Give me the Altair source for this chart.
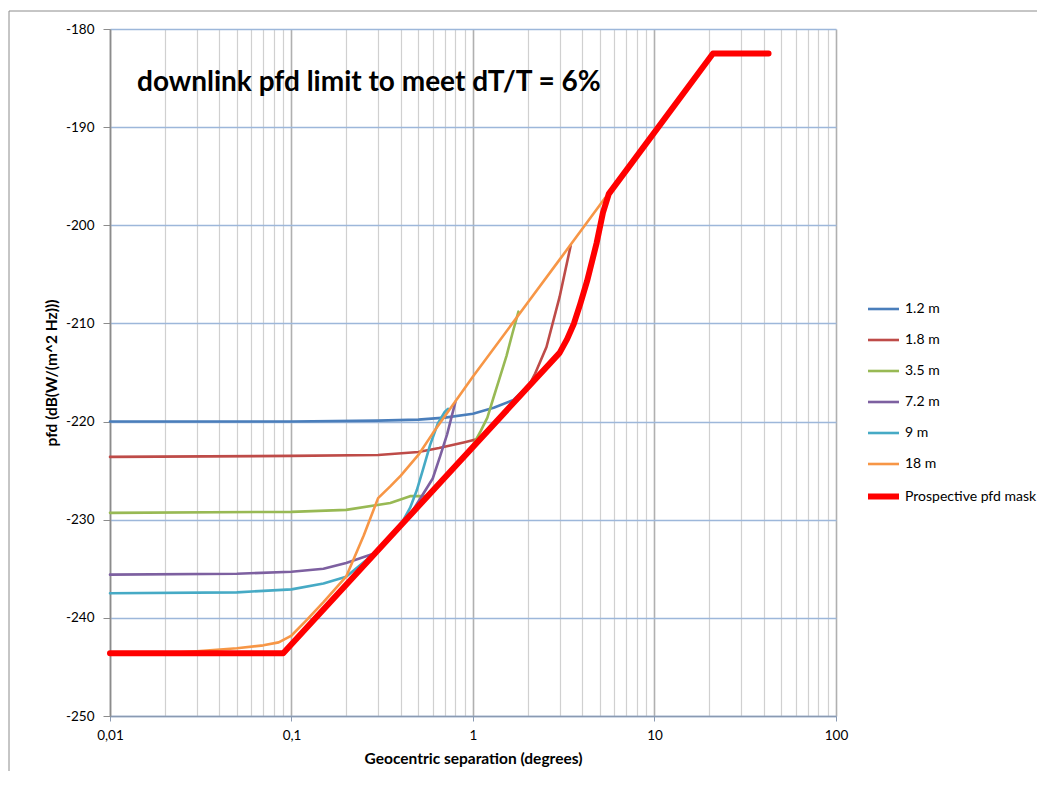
import altair as alt
import pandas as pd

# ---- data ----
title_text = "downlink pfd limit to meet dT/T = 6%"
series_names = ["1.2 m", "1.8 m", "3.5 m", "7.2 m", "9 m", "18 m", "Prospective pfd mask"]
series_colors = ["#4a7ebb", "#be4b48", "#98b954", "#7d60a0", "#46aac5", "#f79646", "#ff0000"]
series_widths = [2.6, 2.6, 2.6, 2.6, 2.6, 2.6, 6]

x_12 = [0.01, 0.03, 0.1, 0.3, 0.5, 0.7, 1.0, 1.3, 1.67, 1.9, 2.3, 2.7, 3.0]
y_12 = [-220.0, -220.0, -220.0, -219.9, -219.8, -219.6, -219.2, -218.6, -217.8, -216.8, -215.4, -214.0, -213.1]

x_18 = [0.01, 0.1, 0.3, 0.5, 0.65, 0.9, 1.1, 1.5, 2.0, 2.2, 2.54, 3.0, 3.45]
y_18 = [-223.6, -223.5, -223.4, -223.1, -222.7, -222.1, -221.7, -219.1, -216.6, -215.1, -212.4, -207.3, -202.1]

x_35 = [0.01, 0.1, 0.2, 0.35, 0.45, 0.55, 0.7, 0.9, 1.0, 1.1, 1.2, 1.29, 1.4, 1.53, 1.65, 1.78]
y_35 = [-229.3, -229.2, -229.0, -228.3, -227.6, -227.6, -225.6, -223.4, -222.4, -221.0, -219.6, -217.7, -215.6, -213.3, -211.0, -208.8]

x_72 = [0.01, 0.05, 0.1, 0.15, 0.2, 0.28, 0.35, 0.45, 0.53, 0.6, 0.66, 0.72, 0.8]
y_72 = [-235.6, -235.5, -235.3, -235.0, -234.4, -233.5, -231.7, -229.5, -227.4, -225.8, -223.5, -221.3, -218.0]

x_9 = [0.01, 0.05, 0.1, 0.15, 0.2, 0.3, 0.4, 0.45, 0.49, 0.53, 0.58, 0.64, 0.7, 0.73]
y_9 = [-237.5, -237.4, -237.1, -236.5, -235.8, -233.1, -230.5, -228.8, -227.0, -224.9, -222.4, -220.2, -219.0, -218.7]

x_18m = [0.01, 0.02, 0.03, 0.05, 0.07, 0.085, 0.1, 0.12, 0.15, 0.2, 0.25, 0.3, 0.35, 0.4, 0.5, 0.6, 1.0, 2.0, 3.0, 5.35]
y_18m = [-243.6, -243.6, -243.4, -243.1, -242.8, -242.5, -241.8, -240.3, -238.4, -235.8, -231.6, -227.8, -226.6, -225.5, -223.4, -221.2, -215.4, -207.9, -203.5, -197.2]

x_mask = [0.01, 0.09, 3.0, 3.3, 3.6, 3.9, 4.25, 4.8, 5.2, 5.6, 21.0, 42.5]
y_mask = [-243.6, -243.6, -213.0, -211.6, -210.0, -208.0, -205.7, -201.8, -198.7, -196.8, -182.5, -182.5]

x_major = [0.01, 0.1, 1, 10, 100]
x_grid = [m * 10 ** e for e in range(-2, 2) for m in range(1, 10)] + [100]
y_ticks = [-250, -240, -230, -220, -210, -200, -190, -180]

FONT = "Lato"

all_x = [x_12, x_18, x_35, x_72, x_9, x_18m, x_mask]
all_y = [y_12, y_18, y_35, y_72, y_9, y_18m, y_mask]
rows = []
for name, xs, ys in zip(series_names, all_x, all_y):
    for i, (xv, yv) in enumerate(zip(xs, ys)):
        rows.append({"series": name, "x": xv, "y": yv, "i": i})
df = pd.DataFrame(rows)

major_test = "indexof([0.01, 0.1, 1, 10, 100], datum.value) >= 0"

x_enc = alt.X(
    "x:Q",
    scale=alt.Scale(type="log", domain=[0.01, 100], nice=False),
    axis=alt.Axis(
        values=x_grid,
        grid=True,
        gridColor={"condition": {"test": major_test, "value": "#b0b0b0"}, "value": "#d0d0d0"},
        gridWidth={"condition": {"test": major_test, "value": 1.6}, "value": 1.2},
        tickOpacity={"condition": {"test": major_test, "value": 1}, "value": 0},
        tickSize=5,
        tickColor="#8a9ab2",
        domainColor="#8a9ab2",
        domainWidth=1.6,
        labelExpr=major_test + " ? replace(toString(datum.value), '.', ',') : ''",
        labelFont=FONT,
        labelFontSize=13.5,
        labelColor="black",
        labelPadding=7,
        labelOverlap=False,
        labelFlush=False,
        title="Geocentric separation (degrees)",
        titleFont=FONT,
        titleFontSize=15.5,
        titleFontWeight="bold",
        titleColor="black",
        titlePadding=10,
    ),
)
y_enc = alt.Y(
    "y:Q",
    scale=alt.Scale(domain=[-250, -180], nice=False, zero=False),
    axis=alt.Axis(
        values=y_ticks,
        grid=True,
        gridColor="#9db7da",
        gridWidth=1.3,
        domainColor="#8c8c8c",
        domainWidth=1.6,
        tickColor="#8c8c8c",
        tickSize=7,
        labelExpr="toString(datum.value)",
        labelFont=FONT,
        labelFontSize=13.5,
        labelColor="black",
        labelPadding=9,
        title="pfd (dB(W/(m^2 Hz)))",
        titleFont=FONT,
        titleFontSize=15.5,
        titleFontWeight="bold",
        titleColor="black",
        titlePadding=6,
    ),
)

legend = alt.Legend(
    title=None,
    orient="none",
    legendX=755,
    legendY=263,
    symbolType="stroke",
    symbolSize=961,
    rowPadding=7,
    labelFont=FONT,
    labelFontSize=14,
    labelColor="black",
    labelOffset=3,
)
color_enc = alt.Color("series:N", scale=alt.Scale(domain=series_names, range=series_colors), legend=legend)
width_enc = alt.StrokeWidth(
    "series:N", scale=alt.Scale(type="ordinal", domain=series_names, range=series_widths), legend=legend
)

layers = []
for name in series_names:
    layers.append(
        alt.Chart(df[df.series == name])
        .mark_line(strokeJoin="round", strokeCap="round")
        .encode(x=x_enc, y=y_enc, color=color_enc, strokeWidth=width_enc, order="i:Q")
    )

title_layer = (
    alt.Chart(pd.DataFrame({"t": [title_text]}))
    .mark_text(font=FONT, fontSize=28, fontWeight="bold", align="left", baseline="alphabetic", color="black")
    .encode(text="t:N", x=alt.value(27), y=alt.value(62))
)

frame_top = alt.Chart(pd.DataFrame({"a": [0]})).mark_rule(color="#8c8c8c", strokeWidth=1).encode(
    x=alt.value(-101), x2=alt.value(950), y=alt.value(-18)
)
frame_left = alt.Chart(pd.DataFrame({"a": [0]})).mark_rule(color="#8c8c8c", strokeWidth=1).encode(
    x=alt.value(-101), y=alt.value(-18), y2=alt.value(800)
)

chart = (
    alt.layer(*layers, title_layer, frame_top, frame_left)
    .properties(
        width=726,
        height=687,
        autosize=alt.AutoSizeParams(type="none"),
        padding={"left": 102, "top": 21, "right": 201, "bottom": 55},
    )
    .configure_view(stroke=None)
)

chart.save("out.html", embed_options={"renderer": "svg", "actions": False})
